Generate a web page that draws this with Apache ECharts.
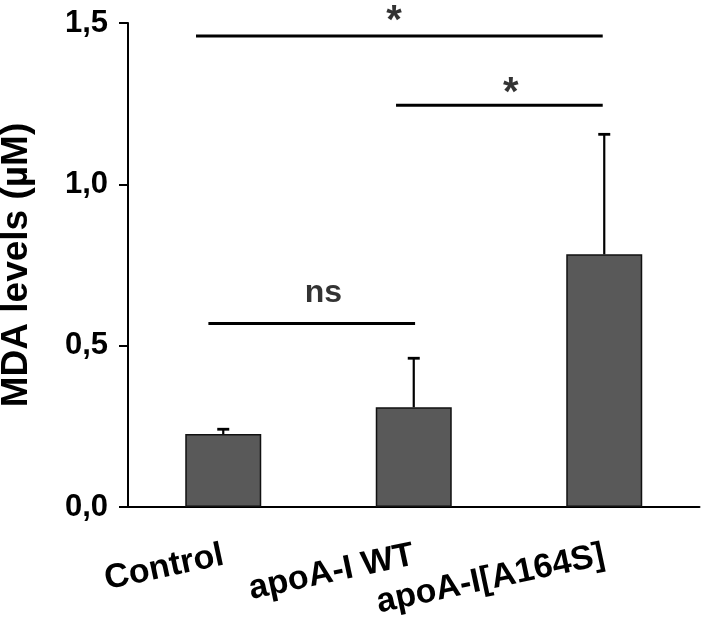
<!DOCTYPE html>
<html><head><meta charset="utf-8">
<script src="https://cdn.jsdelivr.net/npm/echarts@6/dist/echarts.min.js"></script>
<style>html,body{margin:0;padding:0;background:#fff}#c{width:701px;height:628px}</style>
</head><body><div id="c"></div>
<script>
const categories = ['Control', 'apoA-I WT', 'apoA-I[A164S]'];
const means = [0.226, 0.309, 0.783];
const errors = [0.015, 0.152, 0.372];
const yTicks = [0, 0.5, 1.0, 1.5];
// significance brackets: [xStart(category index), xEnd, y]
const brackets = [[-0.143, 1.992, 1.46], [0.907, 1.992, 1.245], [-0.078, 1.007, 0.569]];
// significance labels: [x(category index), y, text]
const sigLabels = [[0.896, 1.503, '*'], [1.51, 1.28, '*'], [0.526, 0.663, 'ns']];

const FONT = '"Liberation Sans", Arial, sans-serif';
const chart = echarts.init(document.getElementById('c'), null, {renderer: 'canvas'});

const series = [
  {
    type: 'bar', data: means, barWidth: 76, xAxisIndex: 0,
    itemStyle: {color: '#595959', borderColor: '#111', borderWidth: 1.5},
    z: 2
  },
  {
    type: 'custom', xAxisIndex: 0, z: 3,
    data: means.map((m, i) => [i, m, m + errors[i]]),
    renderItem: function (params, api) {
      const i = api.value(0);
      const lo = api.coord([i, api.value(1)]);
      const hi = api.coord([i, api.value(2)]);
      const hw = 6;
      return {type: 'group', children: [
        {type: 'line', shape: {x1: lo[0], y1: lo[1], x2: hi[0], y2: hi[1]}, style: {stroke: '#000', lineWidth: 2.2}},
        {type: 'line', shape: {x1: hi[0] - hw, y1: hi[1], x2: hi[0] + hw, y2: hi[1]}, style: {stroke: '#000', lineWidth: 2.8}}
      ]};
    }
  }
];
brackets.forEach(b => {
  series.push({
    type: 'line', xAxisIndex: 1, symbol: 'none', silent: true, clip: false,
    data: [[b[0], b[2]], [b[1], b[2]]],
    lineStyle: {color: '#000', width: 3}, z: 4
  });
});
series.push({
  type: 'scatter', xAxisIndex: 1, symbolSize: 0, clip: false, silent: true,
  data: sigLabels.map(s => ({value: [s[0], s[1]], label: {fontSize: s[2] === '*' ? 40 : 32}, name: s[2]})),
  label: {show: true, position: 'inside', formatter: p => p.name, color: '#000', fontWeight: 'bold', fontFamily: FONT},
  z: 5
});

chart.setOption({
  animation: false,
  backgroundColor: '#fff',
  grid: {left: 128, right: 1.5, top: 23, bottom: 121, containLabel: false, outerBoundsMode: 'none'},
  xAxis: [
    {
      type: 'category', data: categories, boundaryGap: true,
      axisLine: {show: true, onZero: false, lineStyle: {color: '#000', width: 2}},
      axisTick: {show: false},
      axisLabel: {rotate: 12, margin: 48, fontSize: 34, fontWeight: 'bold', color: '#000', fontFamily: FONT, interval: 0}
    },
    {type: 'value', min: -0.5, max: 2.5, show: false}
  ],
  yAxis: {
    type: 'value', min: 0, max: 1.5, interval: 0.5, position: 'left',
    name: 'MDA levels (µM)', nameLocation: 'middle', nameGap: 93, nameMoveOverlap: false,
    nameTextStyle: {fontSize: 37, fontWeight: 'bold', color: '#000', fontFamily: FONT},
    splitLine: {show: false},
    axisLine: {show: true, onZero: false, lineStyle: {color: '#000', width: 2}},
    axisTick: {show: true, length: 9, lineStyle: {color: '#000', width: 2}},
    axisLabel: {margin: 20, fontSize: 31, fontWeight: 'bold', color: '#000', fontFamily: FONT,
      formatter: v => yTicks.includes(v) ? v.toFixed(1).replace('.', ',') : ''}
  },
  series: series
});
</script></body></html>
